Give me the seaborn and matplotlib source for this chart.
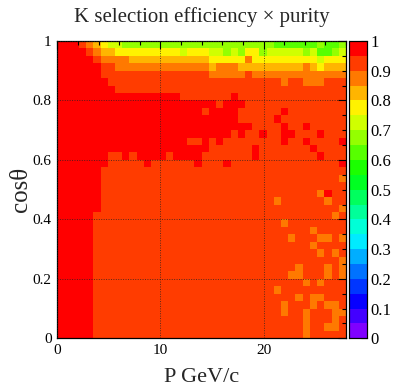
import numpy as np
import pandas as pd
import seaborn as sns
import matplotlib
matplotlib.use("Agg")
import matplotlib.pyplot as plt
from matplotlib.colors import ListedColormap, hsv_to_rgb
from matplotlib.ticker import MultipleLocator, FuncFormatter

# ---------------- data ----------------
title = "K selection efficiency \u00d7 purity"
x_label = "P GeV/c"
y_label = "cos\u03b8"
p_range = (0.0, 28.0)
cos_range = (0.0, 1.0)
n_p_bins = 40
n_cos_bins = 40
cbar_ticks = [0, 0.1, 0.2, 0.3, 0.4, 0.5, 0.6, 0.7, 0.8, 0.9, 1.0]

# efficiency level (bin centre of the colour contour) for each symbol
level_values = {"R": 0.975, "r": 0.925, "O": 0.875, "A": 0.825,
                "Y": 0.775, "y": 0.725, "L": 0.675, "G": 0.625}

# rows from cos=1 (top) down to cos=0, columns from P=0 to P=28 (groups of 10 bins)
eff_rows = [
    "RRRrOAYyyL LLLLLLLLLL LLLLLLLLLL GGGGGGLGGL",
    "RRRRrOAAYY YYYYYYYyYY YyyLyLYYLy yyyyLyGGLy",
    "RRRRRrOOOO AAAAAAAAAA AYYYYYOYYY YYYYYYyYYY",
    "RRRRRRrrOO OOOOOOOOOO OAOOOAAAAA AAAAOAYAAA",
    "RRRRRRrrrr rrrrrrrrrr rOOOOOrOOO OOOOOOOOOO",
    "RRRRRRRrrr rrrrrrrrrr rrrrrrrrrr rOrrOOOrrr",
    "RRRRRRRRrr rrrrrrrrrr rrrrrrrrrr rrrrrrrrrr",
    "RRRRRRRRRR RRRRRRRrrr rrrrRrrrrr rrrrrrrrrr",
    "RRRRRRRRRR RRRRRRRRRR RRrRRRrrrr rrrrrrrrrr",
    "RRRRRRRRRR RRRRRRRRRR rRRRRrrrrr rRrrrrrrrr",
    "RRRRRRRRRR RRRRRRRRRR RRRRRrrrrr Rrrrrrrrrr",
    "RRRRRRRRRR RRRRRRRRRR RRRRRRRrrr rRrrRrrrrr",
    "RRRRRRRRRR RRRRRRRRRR RRRRrRrrRr rRRrrrRrrr",
    "RRRRRRRRRR RRRRRRRRrr RrRrrrrrrr rRrrRrrrrR",
    "RRRRRRRRRR RRRRRRRRRR RrrrrrrRrr rrrrrRrrrr",
    "RRRRRRRrrR rRRRRrRRRR rrrrrrrRrr rrrrrrRrrr",
    "RRRRRRRrrr rrRrrrrrrR rrrRrrrrrr rrrrrrrrrR",
    "RRRRRRrrrr rrrrrrrrrr rrrrrrrrrr rrrrrrrrrr",
    "RRRRRRrrrr rrrrrrrrrr rrrrrrrrrr rrrrrrrrrO",
    "RRRRRRrrrr rrrrrrrrrr rrrrrrrrrr rrrrrrrrrr",
    "RRRRRRrrrr rrrrrrrrrr rrrrrrrrrr rrrrrrORrr",
    "RRRRRRrrrr rrrrrrrrrr rrrrrrrrrr OrrrrrrOrr",
    "RRRRRRrrrr rrrrrrrrrr rrrrrrrrrr rrrrrrrrrO",
    "RRRRRrrrrr rrrrrrrrrr rrrrrrrrrr rrrrrrrrOr",
    "RRRRRrrrrr rrrrrrrrrr rrrrrrrrrr rOrrrrrrrr",
    "RRRRRrrrrr rrrrrrrrrr rrrrrrrrrr rrrrrOrrrr",
    "RRRRRrrrrr rrrrrrrrrr rrrrrrrrrr rrOrrrOOrO",
    "RRRRRrrrrr rrrrrrrrrr rrrrrrrrrr rrrrrOrrrr",
    "RRRRRrrrrr rrrrrrrrrr rrrrrrrrrr rrrrrrOrOr",
    "RRRRRrrrrr rrrrrrrrrr rrrrrrrrrr rrrrrrrrrO",
    "RRRRRrrrrr rrrrrrrrrr rrrrrrrrrr rrrOrrrOrO",
    "RRRRRrrrrr rrrrrrrrrr rrrrrrrrrr rrOOrrrOrO",
    "RRRRRrrrrr rrrrrrrrrr rrrrrrrrrr rrrrOrOrrr",
    "RRRRRrrrrr rrrrrrrrrr rrrrrrrrrr Orrrrrrrrr",
    "RRRRRrrrrr rrrrrrrrrr rrrrrrrrrr rrrOrOOrrr",
    "RRRRRrrrrr rrrrrrrrrr rrrrrrrrrr rOrrrOrOOr",
    "RRRRRrrrrr rrrrrrrrrr rrrrrrrrrr rOrrOrrrOO",
    "RRRRRrrrrr rrrrrrrrrr rrrrrrrrrr rrrrOrrrOr",
    "RRRRRrrrrr rrrrrrrrrr rrrrrrrrrr rrrrOrrOOr",
    "RRRRRrrrrr rrrrrrrrrr rrrrrrrrrr rrrrOrrrrr",
]

# ---------------- build long table ----------------
p_edges = np.linspace(p_range[0], p_range[1], n_p_bins + 1)
c_edges = np.linspace(cos_range[0], cos_range[1], n_cos_bins + 1)
p_centres = 0.5 * (p_edges[:-1] + p_edges[1:])
c_centres = 0.5 * (c_edges[:-1] + c_edges[1:])

recs = []
for i, row in enumerate(eff_rows):
    row = row.replace(" ", "")
    assert len(row) == n_p_bins, (i, len(row))
    cval = c_centres[n_cos_bins - 1 - i]
    for j, ch in enumerate(row):
        recs.append((p_centres[j], cval, level_values[ch]))
df = pd.DataFrame(recs, columns=["P", "cos", "eff"])

# ---------------- style ----------------
n_levels = 20
hues = np.linspace(270.0, 0.0, n_levels) / 360.0
palette_colors = [hsv_to_rgb((h, 1.0, 1.0)) for h in hues]
cmap = ListedColormap(palette_colors)

sns.set_style("white")
plt.rcParams["font.family"] = ["Liberation Serif", "DejaVu Serif"]
plt.rcParams["mathtext.fontset"] = "stix"

W, H = 394, 391
fig = plt.figure(figsize=(W / 100, H / 100), dpi=100)
ax_l, ax_r, ax_t, ax_b = 57.3, 346.0, 41.0, 338.3
ax = fig.add_axes([ax_l / W, 1 - ax_b / H, (ax_r - ax_l) / W, (ax_b - ax_t) / H])
cb_l, cb_r = 349.0, 366.5
cax = fig.add_axes([cb_l / W, 1 - ax_b / H, (cb_r - cb_l) / W, (ax_b - ax_t) / H])

sns.histplot(data=df, x="P", y="cos", weights="eff",
             bins=(n_p_bins, n_cos_bins), binrange=(p_range, cos_range),
             cmap=cmap, vmin=0.0, vmax=1.0, cbar=True, cbar_ax=cax, ax=ax)

ax.set_xlim(*p_range)
ax.set_ylim(*cos_range)
ax.xaxis.set_major_locator(MultipleLocator(10))
ax.xaxis.set_minor_locator(MultipleLocator(2))
ax.yaxis.set_major_locator(MultipleLocator(0.2))
ax.yaxis.set_minor_locator(MultipleLocator(0.05))
fmt = FuncFormatter(lambda v, pos: "%g" % round(v, 3))
ax.xaxis.set_major_formatter(fmt)
ax.yaxis.set_major_formatter(fmt)
ax.tick_params(which="both", direction="in", top=True, right=True,
               colors="black", labelsize=11, width=0.8)
ax.tick_params(which="major", length=6, pad=4)
ax.tick_params(which="minor", length=3)
ax.set_axisbelow(False)
ax.grid(True, which="major", linestyle=(0, (1, 1.5)), color="#222222",
        linewidth=0.7, alpha=0.75)
for s in ax.spines.values():
    s.set_visible(True)
    s.set_color("black")
    s.set_linewidth(0.9)

ax.set_xlabel(x_label, fontsize=16)
ax.set_ylabel(y_label, fontsize=18)
ax.xaxis.label.set_va("center")
ax.yaxis.label.set_va("center")
ax.xaxis.set_label_coords(0.5, (ax_b - 378) / (ax_b - ax_t))
ax.yaxis.set_label_coords((21 - ax_l) / (ax_r - ax_l), 0.5)
ax.set_title(title, fontsize=15, y=(ax_b - 17) / (ax_b - ax_t), va="center", pad=0)

cax.set_ylim(0, 1)
cax.yaxis.set_ticks(cbar_ticks)
cax.yaxis.set_major_formatter(fmt)
cax.yaxis.set_ticks_position("right")
cax.tick_params(which="both", direction="in", length=4, labelsize=12,
                colors="black", width=0.8, pad=3)
cax.minorticks_off()
for s in cax.spines.values():
    s.set_visible(True)
    s.set_color("black")
    s.set_linewidth(0.8)

fig.savefig("out.png", dpi=100)
